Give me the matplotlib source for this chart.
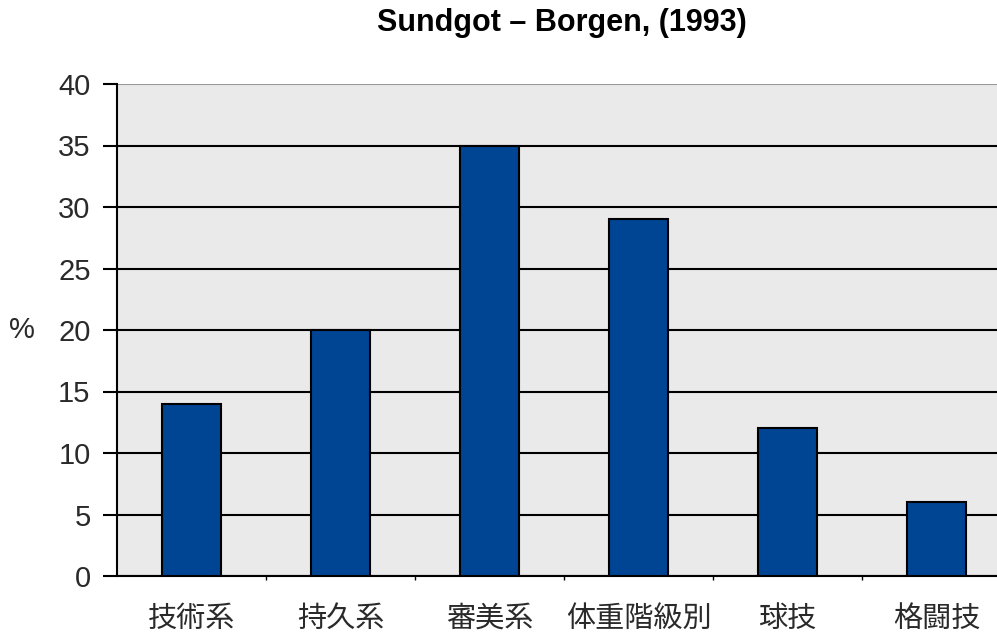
import matplotlib
matplotlib.use("Agg")
import matplotlib.pyplot as plt
import numpy as np

categories = ["技術系", "持久系", "審美系", "体重階級別", "球技", "格闘技"]
values = [14, 20, 35, 29, 12, 6]
yticks = [0, 5, 10, 15, 20, 25, 30, 35, 40]

plt.rcParams['font.family'] = ['Liberation Sans', 'Noto Sans CJK JP', 'DejaVu Sans']

fig = plt.figure(figsize=(9.97, 6.33), dpi=100)
ax = fig.add_axes([117/997, 1 - 576/633, 1 - 117/997, (576 - 84)/633])
ax.set_facecolor("#eaeaea")

x = np.arange(len(categories))
ax.bar(x, values, width=0.4, color="#004494", edgecolor="black", linewidth=1.5, zorder=3)

ax.set_xlim(-0.5, 5.5 - 14/149)
ax.set_ylim(0, 40)
ax.set_yticks(yticks)
ax.set_yticklabels([str(v) for v in yticks], fontsize=21, color="#2a2a2a")
ax.tick_params(axis="y", length=10, width=1.5, direction="out", pad=9)

ax.set_xticks(x)
ax.set_xticklabels(categories, fontsize=21, color="#2a2a2a",
                   family=['Noto Sans CJK JP', 'DejaVu Sans'])
ax.tick_params(axis="x", length=0, pad=20)
ax.set_xticks(np.arange(0.5, 5.5, 1), minor=True)
ax.tick_params(axis="x", which="minor", length=3, width=1, direction="out")

ax.yaxis.grid(True, color="black", linewidth=1.5, zorder=1)
ax.set_axisbelow(True)
ax.get_ygridlines()[-1].set_color("#999999")
for s in ["top", "right"]:
    ax.spines[s].set_visible(False)
ax.spines["left"].set_linewidth(1.5)
ax.spines["bottom"].set_linewidth(1.5)

fig.text(22/997, 1 - 330/633, "%", fontsize=21, color="#2a2a2a", ha="center", va="center")
fig.text(562/997, 1 - 23/633, "Sundgot – Borgen, (1993)", fontsize=22, fontweight="bold",
         ha="center", va="center")

fig.savefig("out.png", dpi=100)
